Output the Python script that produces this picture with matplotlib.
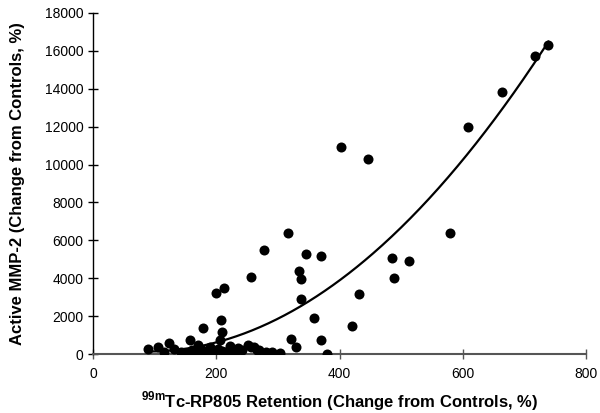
import matplotlib
matplotlib.use("Agg")
import matplotlib.pyplot as plt
import numpy as np

plt.rcParams['font.family'] = ['Liberation Sans', 'DejaVu Sans']
plt.rcParams['mathtext.fontset'] = 'custom'
plt.rcParams['mathtext.rm'] = 'Liberation Sans'
plt.rcParams['mathtext.bf'] = 'Liberation Sans:bold'

retention = [89, 105, 116, 123, 132, 148, 158, 161, 171, 174, 179, 183, 190, 196,
             200, 212, 208, 209, 206, 203, 215, 222, 231, 236, 242, 252, 256, 261,
             266, 269, 280, 291, 303, 256, 278, 316, 334, 338, 338, 345, 370, 359,
             321, 330, 370, 380, 403, 446, 421, 432, 486, 488, 512, 579, 608, 663,
             718, 739, 155, 165, 185, 195, 210, 218, 142, 176]
mmp2 = [260, 380, 140, 600, 260, 80, 740, 230, 490, 140, 1360, 50, 400, 150,
        3250, 3500, 1800, 1190, 750, 300, 100, 450, 140, 320, 230, 490, 400, 400,
        230, 230, 140, 140, 80, 4090, 5480, 6390, 4370, 3970, 2900, 5270, 5180, 1900,
        790, 360, 750, 30, 10900, 10300, 1490, 3190, 5100, 4000, 4900, 6400, 12000, 13800,
        15700, 16300, 50, 100, 200, 60, 200, 50, 120, 280]

trend_coef = [0.03855, -6.80, 446.0]   # quadratic trendline a*x^2 + b*x + c
x_ticks = [0, 200, 400, 600, 800]
y_ticks = list(range(0, 18001, 2000))

fig = plt.figure(figsize=(6.0, 4.13), dpi=100)
ax = fig.add_axes([93/600, 1-354.3/413, (586-93)/600, (354.3-12.7)/413])

ax.scatter(retention, mmp2, s=52, color='black', zorder=3, linewidths=0)
xs = np.linspace(min(retention), max(retention), 300)
ax.plot(xs, np.polyval(trend_coef, xs), color='black', lw=1.6, zorder=2)

ax.set_xlim(0, 800)
ax.set_ylim(0, 18000)
ax.set_xticks(x_ticks)
ax.set_yticks(y_ticks)
ax.tick_params(direction='inout', length=7, width=1, labelsize=10, colors='black')
ax.tick_params(axis='x', pad=6, color='#555555')
ax.spines['top'].set_visible(False)
ax.spines['right'].set_visible(False)
ax.spines['bottom'].set_color('#555555')
ax.spines['bottom'].set_linewidth(1.5)
ax.spines['left'].set_linewidth(1.0)

ax.set_xlabel(r'$^{\mathbf{99m}}$Tc-RP805 Retention (Change from Controls, %)',
              fontsize=12, fontweight='bold', labelpad=6)
ax.set_ylabel('Active MMP-2 (Change from Controls, %)', fontsize=12,
              fontweight='bold', labelpad=14)

fig.savefig('out.png', dpi=100)
